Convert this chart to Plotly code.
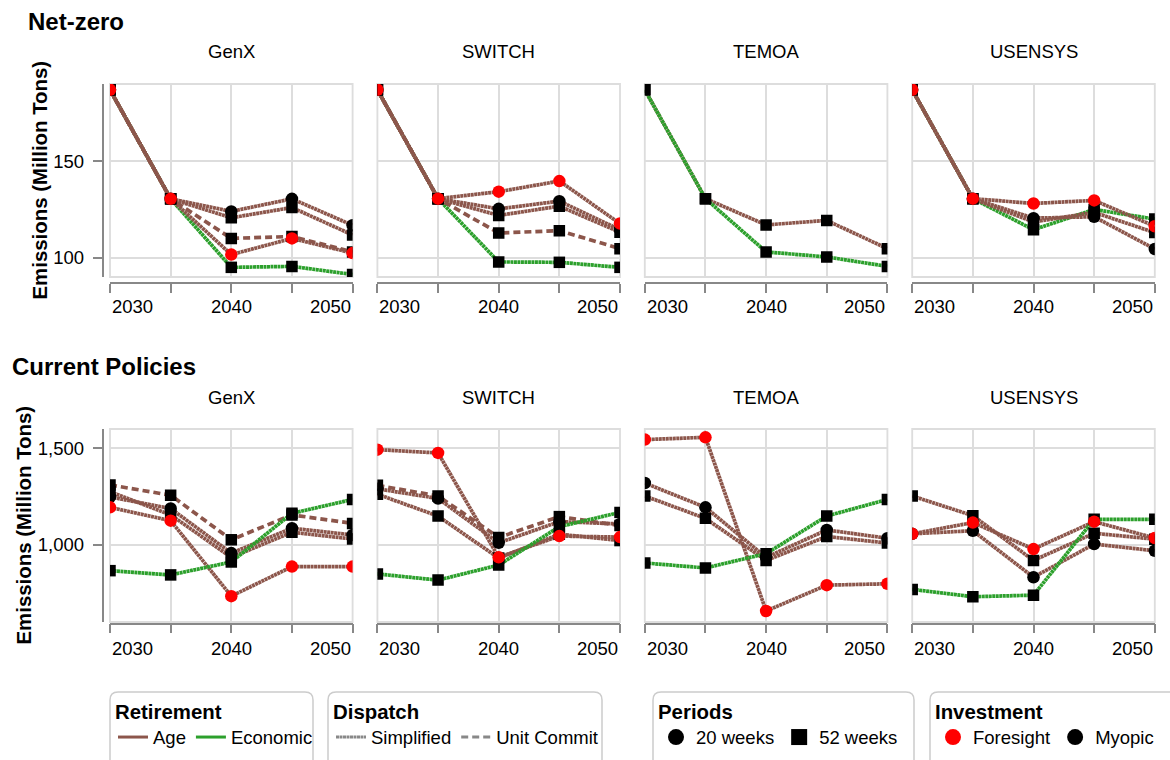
import plotly.graph_objects as go

W, H = 1170, 760
FONT = "Liberation Sans, Arial, sans-serif"

YEARS = [2030, 2035, 2040, 2045, 2050]
MODELS = ["GenX", "SWITCH", "TEMOA", "USENSYS"]
SCENARIOS = ["Net-zero", "Current Policies"]

# Net-zero, emissions in million tons
nz_genx_econ_52w = [187, 130.5, 95, 95.5, 91.3]
nz_genx_age_20w_myopic = [187, 130.5, 124, 130.5, 116.8]
nz_genx_age_52w_myopic = [187, 130.5, 120.7, 126, 111.8]
nz_genx_age_uc_52w = [187, 130.5, 110, 111, 103]
nz_genx_age_20w_foresight = [187, 130.5, 101.6, 110, 102.4]

nz_switch_econ_52w = [187, 130.6, 97.8, 97.6, 95]
nz_switch_age_20w_myopic = [187, 130.6, 125.3, 129.3, 114.5]
nz_switch_age_52w_myopic = [187, 130.6, 121.9, 126.7, 113.2]
nz_switch_age_uc_52w = [187, 130.6, 112.8, 114, 104.7]
nz_switch_age_20w_foresight = [187, 130.6, 134.2, 139.7, 117.7]

nz_temoa_age_52w_myopic = [187, 130.6, 117, 119.3, 104.7]
nz_temoa_econ_52w = [187, 130.6, 103, 100.4, 95.5]

nz_usensys_econ_52w = [187, 130.6, 114.5, 125, 120]
nz_usensys_age_20w_myopic = [187, 130.6, 120.5, 121.2, 104.5]
nz_usensys_age_52w_myopic = [187, 130.6, 118.5, 123.5, 113]
nz_usensys_age_20w_foresight = [187, 130.6, 128.1, 129.7, 116.3]

# Current Policies
cp_genx_age_20w_foresight = [1194, 1125, 734, 887, 887]
cp_genx_age_20w_myopic = [1248, 1188, 957, 1086, 1051]
cp_genx_age_52w_myopic = [1275, 1155, 935, 1065, 1030]
cp_genx_age_uc_52w = [1310, 1257, 1026, 1155, 1111]
cp_genx_econ_52w = [866, 844, 911, 1163, 1235]

cp_switch_age_20w_foresight = [1493, 1476, 935, 1045, 1040]
cp_switch_age_20w_myopic = [1290, 1240, 1010, 1120, 1108]
cp_switch_age_52w_myopic = [1262, 1149, 931, 1055, 1022]
cp_switch_age_uc_52w = [1308, 1253, 1038, 1146, 1100]
cp_switch_econ_52w = [849, 817, 895, 1094, 1168]

cp_temoa_age_20w_foresight = [1545, 1557, 657, 791, 798]
cp_temoa_age_20w_myopic = [1320, 1194, 935, 1077, 1034]
cp_temoa_age_52w_myopic = [1253, 1137, 919, 1043, 1009]
cp_temoa_econ_52w = [906, 880, 954, 1149, 1235]

cp_usensys_age_20w_foresight = [1057, 1115, 978, 1120, 1035]
cp_usensys_age_20w_myopic = [1057, 1073, 832, 1004, 969]
cp_usensys_age_52w_myopic = [1253, 1151, 919, 1060, 1029]
cp_usensys_econ_52w = [769, 731, 739, 1132, 1132]

Y_RANGES = [[90, 190], [600, 1600]]
Y_TICKS = [[100, 150], [1000, 1500]]

# (scenario, model, retirement, dispatch, periods, investment, values), in drawing order
SERIES = [
    ("Net-zero", "GenX", "Economic", "Simplified", "52 weeks", "Myopic", nz_genx_econ_52w),
    ("Net-zero", "GenX", "Age", "Simplified", "20 weeks", "Myopic", nz_genx_age_20w_myopic),
    ("Net-zero", "GenX", "Age", "Simplified", "52 weeks", "Myopic", nz_genx_age_52w_myopic),
    ("Net-zero", "GenX", "Age", "Unit Commit", "52 weeks", "Myopic", nz_genx_age_uc_52w),
    ("Net-zero", "GenX", "Age", "Simplified", "20 weeks", "Foresight", nz_genx_age_20w_foresight),
    ("Net-zero", "SWITCH", "Economic", "Simplified", "52 weeks", "Myopic", nz_switch_econ_52w),
    ("Net-zero", "SWITCH", "Age", "Simplified", "20 weeks", "Myopic", nz_switch_age_20w_myopic),
    ("Net-zero", "SWITCH", "Age", "Simplified", "52 weeks", "Myopic", nz_switch_age_52w_myopic),
    ("Net-zero", "SWITCH", "Age", "Unit Commit", "52 weeks", "Myopic", nz_switch_age_uc_52w),
    ("Net-zero", "SWITCH", "Age", "Simplified", "20 weeks", "Foresight", nz_switch_age_20w_foresight),
    ("Net-zero", "TEMOA", "Age", "Simplified", "52 weeks", "Myopic", nz_temoa_age_52w_myopic),
    ("Net-zero", "TEMOA", "Economic", "Simplified", "52 weeks", "Myopic", nz_temoa_econ_52w),
    ("Net-zero", "USENSYS", "Economic", "Simplified", "52 weeks", "Myopic", nz_usensys_econ_52w),
    ("Net-zero", "USENSYS", "Age", "Simplified", "20 weeks", "Myopic", nz_usensys_age_20w_myopic),
    ("Net-zero", "USENSYS", "Age", "Simplified", "52 weeks", "Myopic", nz_usensys_age_52w_myopic),
    ("Net-zero", "USENSYS", "Age", "Simplified", "20 weeks", "Foresight", nz_usensys_age_20w_foresight),
    ("Current Policies", "GenX", "Age", "Simplified", "20 weeks", "Foresight", cp_genx_age_20w_foresight),
    ("Current Policies", "GenX", "Age", "Simplified", "20 weeks", "Myopic", cp_genx_age_20w_myopic),
    ("Current Policies", "GenX", "Age", "Simplified", "52 weeks", "Myopic", cp_genx_age_52w_myopic),
    ("Current Policies", "GenX", "Age", "Unit Commit", "52 weeks", "Myopic", cp_genx_age_uc_52w),
    ("Current Policies", "GenX", "Economic", "Simplified", "52 weeks", "Myopic", cp_genx_econ_52w),
    ("Current Policies", "SWITCH", "Age", "Simplified", "20 weeks", "Foresight", cp_switch_age_20w_foresight),
    ("Current Policies", "SWITCH", "Age", "Simplified", "20 weeks", "Myopic", cp_switch_age_20w_myopic),
    ("Current Policies", "SWITCH", "Age", "Simplified", "52 weeks", "Myopic", cp_switch_age_52w_myopic),
    ("Current Policies", "SWITCH", "Age", "Unit Commit", "52 weeks", "Myopic", cp_switch_age_uc_52w),
    ("Current Policies", "SWITCH", "Economic", "Simplified", "52 weeks", "Myopic", cp_switch_econ_52w),
    ("Current Policies", "TEMOA", "Age", "Simplified", "20 weeks", "Foresight", cp_temoa_age_20w_foresight),
    ("Current Policies", "TEMOA", "Age", "Simplified", "20 weeks", "Myopic", cp_temoa_age_20w_myopic),
    ("Current Policies", "TEMOA", "Age", "Simplified", "52 weeks", "Myopic", cp_temoa_age_52w_myopic),
    ("Current Policies", "TEMOA", "Economic", "Simplified", "52 weeks", "Myopic", cp_temoa_econ_52w),
    ("Current Policies", "USENSYS", "Age", "Simplified", "20 weeks", "Foresight", cp_usensys_age_20w_foresight),
    ("Current Policies", "USENSYS", "Age", "Simplified", "20 weeks", "Myopic", cp_usensys_age_20w_myopic),
    ("Current Policies", "USENSYS", "Age", "Simplified", "52 weeks", "Myopic", cp_usensys_age_52w_myopic),
    ("Current Policies", "USENSYS", "Economic", "Simplified", "52 weeks", "Myopic", cp_usensys_econ_52w),
]

RET_COLOR = {"Age": "#8c564b", "Economic": "#2ca02c"}
DASH = {"Simplified": "3px,0.5px", "Unit Commit": "7px,4px"}
SYMBOL = {"20 weeks": "circle", "52 weeks": "square"}
SYMBOL_SIZE = {"20 weeks": 12.5, "52 weeks": 11.5}
INV_COLOR = {"Foresight": "#ff0000", "Myopic": "#000000"}

# panel geometry in pixels
COL_LEFT = [110, 377.4, 644.8, 912.2]
COL_W = 242.6
ROW_TOP = [84, 429]
ROW_H = 193
XAXIS_Y = [283, 623.5]
YAXIS_X = 102.7
HEADER_Y = [52, 397]
TICKLABEL_Y = [306, 648]
YTITLE_X = [39, 23]


def axis_num(row, col):
    k = row * 4 + col + 1
    return "" if k == 1 else str(k)


fig = go.Figure()

# lines first, then points (myopic under foresight)
for scen, model, ret, disp, per, inv, vals in SERIES:
    k = axis_num(SCENARIOS.index(scen), MODELS.index(model))
    fig.add_trace(go.Scatter(
        x=YEARS, y=vals, mode="lines", xaxis=f"x{k}", yaxis=f"y{k}",
        line=dict(color=RET_COLOR[ret], width=3.7, dash=DASH[disp]),
        showlegend=False, hoverinfo="skip",
    ))
for inv_pass in ["Myopic", "Foresight"]:
    for scen, model, ret, disp, per, inv, vals in SERIES:
        if inv != inv_pass:
            continue
        k = axis_num(SCENARIOS.index(scen), MODELS.index(model))
        fig.add_trace(go.Scatter(
            x=YEARS, y=vals, mode="markers", xaxis=f"x{k}", yaxis=f"y{k}",
            marker=dict(color=INV_COLOR[inv], symbol=SYMBOL[per], size=SYMBOL_SIZE[per]),
            showlegend=False, hoverinfo="skip",
        ))

# legend entries
for name, color in RET_COLOR.items():
    fig.add_trace(go.Scatter(x=[None], y=[None], mode="lines", name=name, legend="legend",
                             line=dict(color=color, width=3)))
for name, dash in DASH.items():
    fig.add_trace(go.Scatter(x=[None], y=[None], mode="lines", name=name, legend="legend2",
                             line=dict(color="#888888", width=3, dash=dash)))
for name, sym in SYMBOL.items():
    fig.add_trace(go.Scatter(x=[None], y=[None], mode="markers", name=name, legend="legend3",
                             marker=dict(color="#000000", symbol=sym, size=16)))
for name, color in INV_COLOR.items():
    fig.add_trace(go.Scatter(x=[None], y=[None], mode="markers", name=name, legend="legend4",
                             marker=dict(color=color, symbol="circle", size=16)))

layout = dict(
    width=W, height=H,
    margin=dict(l=0, r=0, t=0, b=0, autoexpand=False),
    paper_bgcolor="white", plot_bgcolor="white",
    font=dict(family=FONT, color="#000000", size=18.5),
)

annotations = []
shapes = []
for row in range(2):
    top = ROW_TOP[row]
    for col in range(4):
        k = axis_num(row, col)
        left = COL_LEFT[col]
        layout[f"xaxis{k}"] = dict(
            domain=[left / W, (left + COL_W) / W], range=[2030, 2050],
            anchor="free", position=1 - XAXIS_Y[row] / H,
            tickvals=YEARS, showticklabels=False,
            ticks="outside", ticklen=9, tickwidth=1.85, tickcolor="#888888",
            showline=True, linecolor="#888888", linewidth=1.85,
            showgrid=True, gridcolor="#dddddd", gridwidth=1.85, zeroline=False,
        )
        ycfg = dict(
            domain=[1 - (top + ROW_H) / H, 1 - top / H], range=Y_RANGES[row],
            tickvals=Y_TICKS[row], tickformat=",",
            showgrid=True, gridcolor="#dddddd", gridwidth=1.85, zeroline=False,
        )
        if col == 0:
            ycfg.update(anchor="free", position=YAXIS_X / W, showline=True,
                        linecolor="#888888", linewidth=1.85, ticks="outside", ticklen=9,
                        tickwidth=1.85, tickcolor="#888888", tickfont=dict(size=18.5),
                        ticklabelstandoff=5)
        else:
            ycfg.update(anchor=f"x{k}", showline=False, showticklabels=False, ticks="")
        layout[f"yaxis{k}"] = ycfg

        # view frame
        shapes.append(dict(type="rect", xref=f"x{k} domain", yref=f"y{k} domain",
                           x0=0, x1=1, y0=0, y1=1, layer="below",
                           line=dict(color="#dddddd", width=1.85)))
        # facet header
        annotations.append(dict(text=MODELS[col], x=(left + COL_W / 2) / W, y=1 - HEADER_Y[row] / H,
                                xref="paper", yref="paper", showarrow=False,
                                xanchor="center", yanchor="middle", font=dict(size=18.5)))
        # flush x tick labels
        for yr, anchor in [(2030, "left"), (2040, "center"), (2050, "right")]:
            annotations.append(dict(text=str(yr), x=yr, y=1 - TICKLABEL_Y[row] / H,
                                    xref=f"x{k}", yref="paper", showarrow=False,
                                    xanchor=anchor, yanchor="middle",
                                    font=dict(size=18.5)))
    # y-axis title
    annotations.append(dict(text="<b>Emissions (Million Tons)</b>", textangle=-90,
                            x=YTITLE_X[row] / W, y=1 - (top + ROW_H / 2) / H,
                            xref="paper", yref="paper", showarrow=False,
                            xanchor="center", yanchor="middle", font=dict(size=20.4)))

annotations.append(dict(text="<b>Net-zero</b>", x=26 / W, y=1 - 21 / H, xref="paper", yref="paper",
                        showarrow=False, xanchor="left", yanchor="middle", font=dict(size=24)))
annotations.append(dict(text="<b>Current Policies</b>", x=10 / W, y=1 - 366 / H, xref="paper",
                        yref="paper", showarrow=False, xanchor="left", yanchor="middle",
                        font=dict(size=24)))


# legend boxes (rounded)
def rounded_box(x0, y0, x1, y1, r=8):
    X0, X1 = x0 / W, x1 / W
    Y0, Y1 = 1 - y0 / H, 1 - y1 / H
    rx, ry = r / W, r / H
    return (f"M{X0 + rx},{Y0} L{X1 - rx},{Y0} Q{X1},{Y0} {X1},{Y0 - ry} "
            f"L{X1},{Y1 + ry} Q{X1},{Y1} {X1 - rx},{Y1} L{X0 + rx},{Y1} "
            f"Q{X0},{Y1} {X0},{Y1 + ry} L{X0},{Y0 - ry} Q{X0},{Y0} {X0 + rx},{Y0} Z")


LEGEND_BOXES = [(110, 313), (328, 602), (653, 914), (930, 1185)]
LEGEND_TITLES = ["Retirement", "Dispatch", "Periods", "Investment"]
for i, (bx0, bx1) in enumerate(LEGEND_BOXES):
    shapes.append(dict(type="path", xref="paper", yref="paper", path=rounded_box(bx0, 692, bx1, 775),
                       line=dict(color="#cccccc", width=1.5), fillcolor="white", layer="below"))
    key = "legend" if i == 0 else f"legend{i + 1}"
    layout[key] = dict(
        x=(bx0 + 3) / W, y=1 - 692 / H, xanchor="left", yanchor="top",
        xref="container", yref="container",
        orientation="h", bgcolor="rgba(0,0,0,0)", borderwidth=0,
        title=dict(text=f"<b>{LEGEND_TITLES[i]}</b>", side="top",
                   font=dict(size=20.4, family=FONT)),
        font=dict(size=18.5, family=FONT), itemwidth=30, tracegroupgap=0,
    )

layout["annotations"] = annotations
layout["shapes"] = shapes
fig.update_layout(**layout)

# the page body has a default 8px margin; drop it so the figure sits at the corner
fig.write_html("out.html", config={"displayModeBar": False},
               post_script="document.body.style.margin='0px';")
